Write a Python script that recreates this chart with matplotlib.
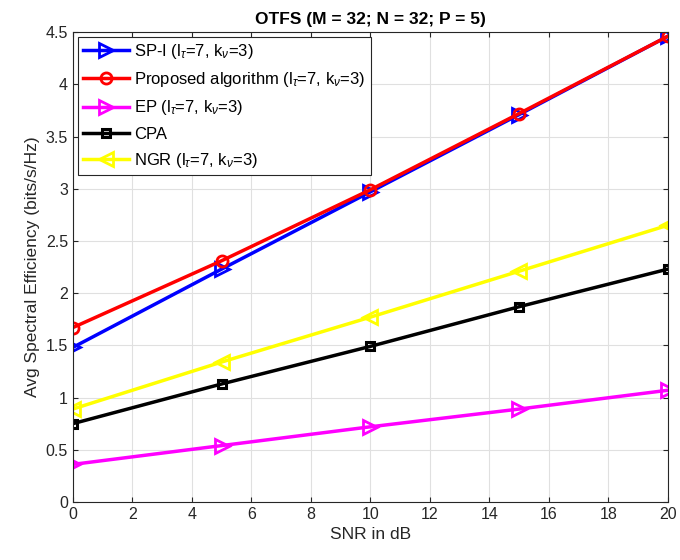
import numpy as np
import matplotlib
matplotlib.use('Agg')
import matplotlib.pyplot as plt

plt.rcParams['font.family'] = ['Liberation Sans', 'DejaVu Sans']
plt.rcParams['mathtext.fontset'] = 'custom'
plt.rcParams['mathtext.rm'] = 'Liberation Sans'
plt.rcParams['mathtext.it'] = 'Liberation Sans:italic'

snr = [0, 5, 10, 15, 20]
sp_i = [1.48, 2.23, 2.97, 3.71, 4.46]
proposed = [1.67, 2.31, 2.99, 3.72, 4.46]
ep = [0.36, 0.54, 0.72, 0.89, 1.07]
cpa = [0.75, 1.13, 1.49, 1.87, 2.23]
ngr = [0.89, 1.34, 1.77, 2.21, 2.65]

sub = r' (l$_{\tau}$=7, k$_{\nu}$=3)'

fig = plt.figure(figsize=(6.8, 5.6), dpi=100)
ax = fig.add_axes([0.107, 0.1036, 0.875, 0.839])

lw = 2.5
ax.plot(snr, sp_i, color='#0000ff', marker='>', mfc='none', mew=2, ms=10, lw=lw, label='SP-I' + sub)
ax.plot(snr, proposed, color='#ff0000', marker='o', mfc='none', mew=2, ms=8, lw=lw, label='Proposed algorithm' + sub)
ax.plot(snr, ep, color='#ff00ff', marker='>', mfc='none', mew=2, ms=10, lw=lw, label='EP' + sub)
ax.plot(snr, cpa, color='#000000', marker='s', mfc='none', mew=2.2, ms=6, lw=lw, label='CPA')
ax.plot(snr, ngr, color='#ffff00', marker='<', mfc='none', mew=2, ms=10, lw=lw, label='NGR' + sub)

ax.set_xlim(0, 20)
ax.set_ylim(0, 4.5)
ax.set_xticks(np.arange(0, 21, 2))
ax.set_yticks(np.arange(0, 4.51, 0.5))
ax.set_yticklabels(['0', '0.5', '1', '1.5', '2', '2.5', '3', '3.5', '4', '4.5'])
ax.grid(True, color='#e0e0e0', lw=0.8)
ax.set_axisbelow(True)
ax.tick_params(direction='in', top=True, right=True, labelsize=11.5, colors='#262626')
for s in ax.spines.values():
    s.set_color('#262626')
    s.set_linewidth(0.8)

ax.set_xlabel('SNR in dB', fontsize=12.5, color='#262626')
ax.set_ylabel('Avg Spectral Efficiency (bits/s/Hz)', fontsize=12.5, color='#262626')
ax.set_title('OTFS (M = 32; N = 32; P = 5)', fontsize=12.5, fontweight='bold')

leg = ax.legend(loc='upper left', fontsize=12, fancybox=False, framealpha=1,
                edgecolor='#262626', borderaxespad=0.3, handlelength=2.8,
                labelspacing=0.55, borderpad=0.3, handletextpad=0.3)
leg.get_frame().set_linewidth(0.8)

fig.savefig('out.png', dpi=100)
